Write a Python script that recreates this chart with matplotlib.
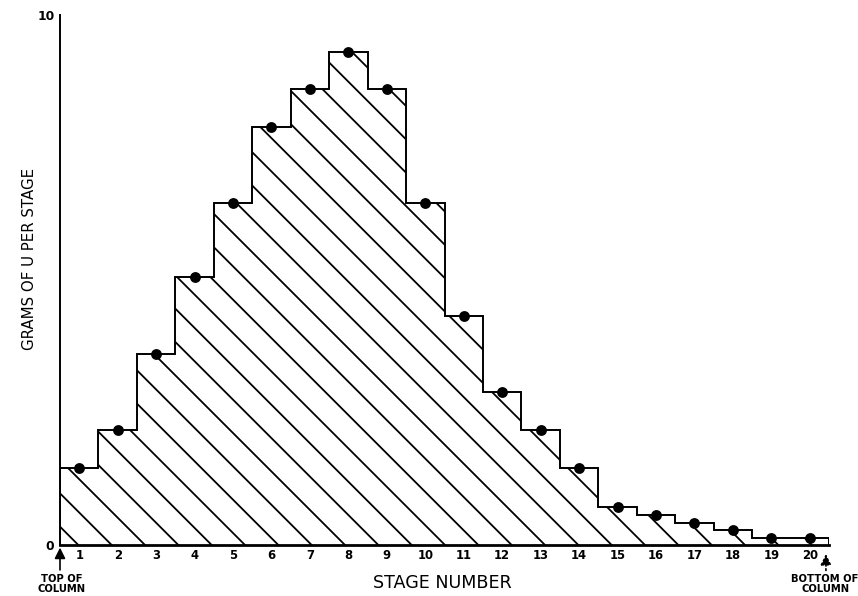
import numpy as np
import matplotlib.pyplot as plt

# grams of U per stage
stages = list(range(1, 21))
grams = [1.45, 2.17, 3.60, 5.06, 6.45, 7.89, 8.60, 9.30, 8.60, 6.45,
         4.32, 2.89, 2.17, 1.45, 0.72, 0.57, 0.42, 0.28, 0.13, 0.13]
y_ticks = [0, 10]

# 200 dpi so that the hatch comes out at roughly the original spacing
plt.rcParams["hatch.linewidth"] = 0.65
fig = plt.figure(figsize=(4.29, 2.98), dpi=200)
ax = fig.add_axes([60 / 858, 51 / 596, 769 / 858, 530 / 596])

edges = np.arange(0.5, len(stages) + 1, 1.0)

# hatched area under the steps
ax.stairs(grams, edges, baseline=0, fill=True, facecolor="none",
          edgecolor="black", hatch="\\\\", linewidth=0)
# step outline
ax.stairs(grams, edges, baseline=0, fill=False, color="black", linewidth=0.7)
ax.plot([edges[-1], edges[-1]], [0, grams[-1]], color="black", linewidth=0.7)
# data points
ax.plot(stages, grams, "o", color="black", markersize=2.9, zorder=5)

ax.set_xlim(0.5, 20.5)
ax.set_ylim(0, 10)
for s in ["top", "right"]:
    ax.spines[s].set_visible(False)
ax.spines["left"].set_linewidth(0.7)
ax.spines["bottom"].set_linewidth(1.0)

ax.set_xticks(stages)
ax.set_xticklabels([str(s) for s in stages], fontsize=4.2, fontweight="bold")
ax.set_yticks(y_ticks)
ax.set_yticklabels([str(v) for v in y_ticks], fontsize=4.4, fontweight="bold")
ax.tick_params(axis="x", length=0, pad=1.5)
ax.tick_params(axis="y", length=0, pad=2)

ax.set_ylabel("GRAMS OF U PER STAGE", fontsize=5.4)
ax.yaxis.set_label_coords(-0.03, 0.54)
ax.set_xlabel("STAGE NUMBER", fontsize=6.3)
ax.xaxis.set_label_coords(0.497, -0.055)

# column end markers
arrow = dict(arrowstyle="-|>", color="black", lw=0.6, mutation_scale=8,
             shrinkA=0, shrinkB=0)
ax.annotate("", xy=(0.5, -0.05), xytext=(0.5, -0.47), arrowprops=arrow,
            annotation_clip=False)
ax.text(0.55, -0.55, "TOP OF\nCOLUMN", ha="center", va="top", fontsize=3.6,
        fontweight="bold", linespacing=1.0)
ax.annotate("", xy=(20.42, -0.17), xytext=(20.42, -0.48),
            arrowprops=dict(arrow, linestyle=":"), annotation_clip=False)
ax.text(20.4, -0.55, "BOTTOM OF\nCOLUMN", ha="center", va="top", fontsize=3.6,
        fontweight="bold", linespacing=1.0)

fig.savefig("out.png", dpi=200)
